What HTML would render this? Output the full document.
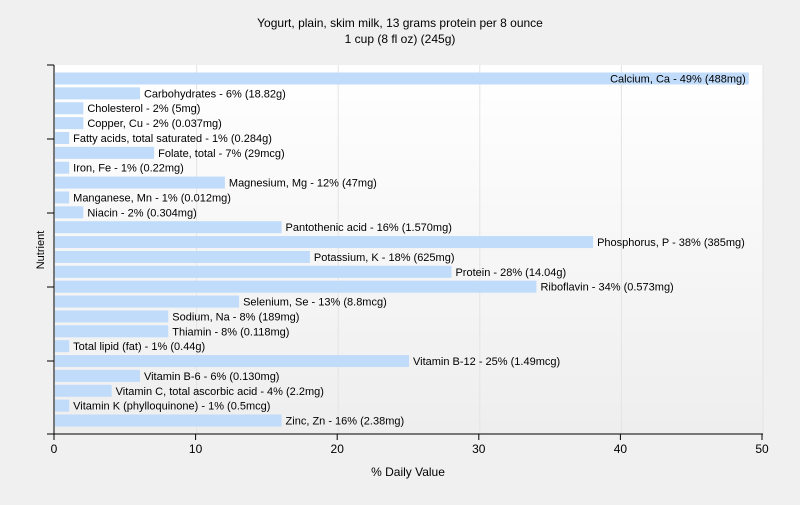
<!DOCTYPE html>
<html><head><meta charset="utf-8"><style>
body{margin:0;background:#f0f0f0;font-family:"Liberation Sans",sans-serif;}
svg text{font-family:"Liberation Sans",sans-serif;}
</style></head><body>
<svg id="chart" width="800" height="500" xmlns="http://www.w3.org/2000/svg">
<defs><linearGradient id="bg" x1="0" y1="0" x2="0" y2="1"><stop offset="0" stop-color="#ffffff"/><stop offset="1" stop-color="#eeeeee"/></linearGradient></defs>
<rect width="800" height="500" fill="#f0f0f0"/>
<text x="400" y="27" text-anchor="middle" font-size="12" fill="#000">Yogurt, plain, skim milk, 13 grams protein per 8 ounce</text>
<text x="400" y="43" text-anchor="middle" font-size="12" fill="#000">1 cup (8 fl oz) (245g)</text>
<rect x="55" y="65" width="708" height="369" fill="url(#bg)"/>
<g id="grid"></g><g id="bars"></g><g id="axes"></g>
<text x="408" y="476" text-anchor="middle" font-size="12">% Daily Value</text>
<text transform="translate(44,250) rotate(-90)" text-anchor="middle" font-size="11">Nutrient</text>
</svg>
<script>
const labels=["Calcium, Ca - 49% (488mg)","Carbohydrates - 6% (18.82g)","Cholesterol - 2% (5mg)","Copper, Cu - 2% (0.037mg)","Fatty acids, total saturated - 1% (0.284g)","Folate, total - 7% (29mcg)","Iron, Fe - 1% (0.22mg)","Magnesium, Mg - 12% (47mg)","Manganese, Mn - 1% (0.012mg)","Niacin - 2% (0.304mg)","Pantothenic acid - 16% (1.570mg)","Phosphorus, P - 38% (385mg)","Potassium, K - 18% (625mg)","Protein - 28% (14.04g)","Riboflavin - 34% (0.573mg)","Selenium, Se - 13% (8.8mcg)","Sodium, Na - 8% (189mg)","Thiamin - 8% (0.118mg)","Total lipid (fat) - 1% (0.44g)","Vitamin B-12 - 25% (1.49mcg)","Vitamin B-6 - 6% (0.130mg)","Vitamin C, total ascorbic acid - 4% (2.2mg)","Vitamin K (phylloquinone) - 1% (0.5mcg)","Zinc, Zn - 16% (2.38mg)"];
const values=[49,6,2,2,1,7,1,12,1,2,16,38,18,28,34,13,8,8,1,25,6,4,1,16];
const xTicks=[0,10,20,30,40,50];
const NS="http://www.w3.org/2000/svg";
const x0=55,x1=763,xMax=50;
const xs=v=>x0+(x1-x0)*v/xMax;
const yc=i=>78.5+i*14.87;
function mk(t,a,p){const e=document.createElementNS(NS,t);for(const k in a)e.setAttribute(k,a[k]);p.appendChild(e);return e;}
const g=document.getElementById('grid'),b=document.getElementById('bars'),ax=document.getElementById('axes');
xTicks.forEach(t=>{if(t>0){const l=mk('line',{x1:xs(t),x2:xs(t),y1:65,y2:434,stroke:'#e4e4e4'},g);

}
const tk=mk('line',{x1:xs(t)-1,x2:xs(t)-1,y1:434,y2:440,stroke:'#000'},ax);


const tx=mk('text',{x:xs(t)-1,y:453,'text-anchor':'middle','font-size':12},ax);tx.textContent=t;

});
values.forEach((v,i)=>{const r=mk('rect',{x:x0,y:yc(i)-6,width:xs(v)-x0,height:12,fill:'#c0dcfa'},b);


const w=xs(v);const t=mk('text',{x:w>700?w-3:w+4,y:yc(i)+4,'font-size':11,'text-anchor':w>700?'end':'start'},b);t.textContent=labels[i];

});
[65,139,213,287,361].forEach(y=>{const l=mk('line',{x1:47,x2:54,y1:y,y2:y,stroke:'#000'},ax);

});
const ya=mk('line',{x1:54,x2:54,y1:65,y2:434,stroke:'#000'},ax);


const xa=mk('line',{x1:47,x2:763,y1:434,y2:434,stroke:'#000'},ax);


</script>
</body></html>
